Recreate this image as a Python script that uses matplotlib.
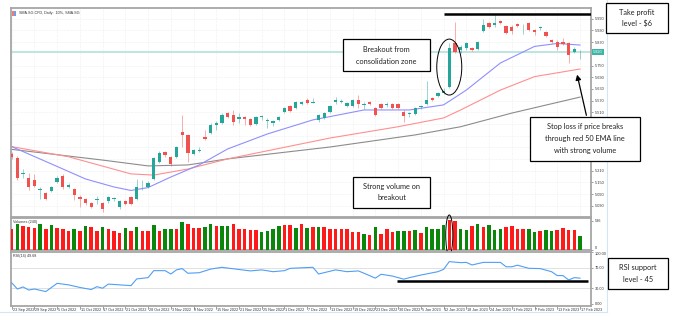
import matplotlib
matplotlib.use("Agg")
import matplotlib.pyplot as plt
from matplotlib.patches import Ellipse, Rectangle, FancyArrowPatch

W, H = 680, 323

# -------------------------------
# Daily candles
# -------------------------------
opens = [5.296, 5.276, 5.194, 5.173, 5.163, 5.114, 5.096, 5.106, 5.153, 5.183,
         5.127, 5.117, 5.076, 5.065, 5.045, 5.058, 5.045, 5.055, 5.063, 5.024,
         5.055, 5.076, 5.065, 5.150, 5.127, 5.168, 5.255, 5.306, 5.281, 5.281,
         5.409, 5.394, 5.296, 5.314, 5.383, 5.404, 5.445, 5.455, 5.506, 5.496,
         5.478, 5.486, 5.476, 5.450, 5.484, 5.463, 5.455, 5.471, 5.512, 5.542,
         5.532, 5.553, 5.573, 5.560, 5.471, 5.481, 5.512, 5.565, 5.565, 5.542,
         5.542, 5.573, 5.550, 5.563, 5.532, 5.553, 5.550, 5.553, 5.553, 5.512,
         5.499, 5.501, 5.535, 5.553, 5.583, 5.594, 5.609, 5.640, 5.865, 5.830,
         5.840, 5.840, 5.835, 5.927, 5.968, 5.958, 5.978, 5.953, 5.947, 5.963,
         5.945, 5.968, 5.932, 5.940, 5.922, 5.881, 5.871, 5.871, 5.865, 5.819,
         5.817]
highs = [5.306, 5.286, 5.219, 5.199, 5.194, 5.127, 5.101, 5.132, 5.183, 5.194,
         5.148, 5.122, 5.086, 5.071, 5.050, 5.081, 5.050, 5.081, 5.076, 5.060,
         5.060, 5.081, 5.168, 5.163, 5.158, 5.281, 5.312, 5.312, 5.286, 5.337,
         5.496, 5.399, 5.322, 5.332, 5.419, 5.455, 5.465, 5.506, 5.512, 5.522,
         5.506, 5.491, 5.481, 5.491, 5.496, 5.481, 5.471, 5.491, 5.537, 5.547,
         5.568, 5.568, 5.583, 5.583, 5.501, 5.512, 5.547, 5.588, 5.578, 5.563,
         5.578, 5.599, 5.563, 5.568, 5.537, 5.558, 5.563, 5.558, 5.558, 5.522,
         5.512, 5.537, 5.547, 5.671, 5.588, 5.614, 5.635, 5.865, 5.973, 5.855,
         5.871, 5.845, 5.876, 5.988, 5.973, 6.009, 5.983, 5.958, 5.958, 5.968,
         5.963, 5.973, 5.937, 5.953, 5.927, 5.886, 5.881, 5.891, 5.871, 5.845,
         5.830]
lows = [5.271, 5.163, 5.173, 5.112, 5.127, 5.065, 5.060, 5.101, 5.148, 5.117,
        5.122, 5.060, 5.024, 5.035, 5.019, 5.040, 4.999, 5.045, 5.055, 5.014,
        5.035, 5.035, 5.060, 5.112, 5.122, 5.163, 5.250, 5.281, 5.235, 5.276,
        5.332, 5.255, 5.291, 5.306, 5.368, 5.399, 5.419, 5.450, 5.481, 5.445,
        5.455, 5.445, 5.440, 5.445, 5.471, 5.430, 5.440, 5.465, 5.506, 5.512,
        5.527, 5.547, 5.553, 5.558, 5.460, 5.476, 5.506, 5.553, 5.558, 5.537,
        5.537, 5.532, 5.527, 5.547, 5.491, 5.527, 5.537, 5.527, 5.527, 5.460,
        5.486, 5.496, 5.527, 5.547, 5.568, 5.588, 5.604, 5.635, 5.814, 5.814,
        5.830, 5.824, 5.830, 5.922, 5.942, 5.947, 5.963, 5.912, 5.912, 5.947,
        5.912, 5.927, 5.906, 5.932, 5.896, 5.865, 5.830, 5.855, 5.763, 5.814,
        5.783]
closes = [5.281, 5.173, 5.201, 5.127, 5.132, 5.119, 5.065, 5.127, 5.173, 5.127,
          5.137, 5.086, 5.065, 5.045, 5.024, 5.063, 5.014, 5.076, 5.068, 5.055,
          5.040, 5.040, 5.127, 5.155, 5.148, 5.276, 5.301, 5.291, 5.245, 5.332,
          5.394, 5.301, 5.317, 5.319, 5.373, 5.445, 5.455, 5.496, 5.486, 5.460,
          5.484, 5.476, 5.445, 5.486, 5.489, 5.468, 5.465, 5.486, 5.532, 5.517,
          5.563, 5.563, 5.558, 5.565, 5.496, 5.506, 5.542, 5.571, 5.569, 5.558,
          5.573, 5.553, 5.555, 5.553, 5.496, 5.532, 5.555, 5.532, 5.532, 5.491,
          5.504, 5.532, 5.540, 5.573, 5.573, 5.609, 5.619, 5.840, 5.819, 5.845,
          5.865, 5.830, 5.871, 5.958, 5.947, 5.968, 5.968, 5.917, 5.927, 5.953,
          5.950, 5.932, 5.922, 5.945, 5.901, 5.871, 5.845, 5.860, 5.804, 5.835,
          5.820]

# EMA lines, read at a few bars
ema20_bars = [0, 7, 13, 18, 21, 24, 28, 33, 38, 45, 53, 62, 70, 76, 80, 86, 92, 96, 100]
ema20_vals = [5.334, 5.245, 5.168, 5.127, 5.109, 5.124, 5.178, 5.240, 5.322, 5.399,
              5.471, 5.522, 5.522, 5.548, 5.624, 5.763, 5.848, 5.863, 5.855]
ema50_bars = [0, 10, 21, 25, 31, 38, 56, 68, 76, 79, 86, 92, 100]
ema50_vals = [5.334, 5.282, 5.194, 5.188, 5.219, 5.271, 5.378, 5.436, 5.481, 5.522,
              5.624, 5.693, 5.732]
ema100_bars = [0, 16, 24, 31, 38, 56, 71, 79, 88, 100]
ema100_vals = [5.320, 5.265, 5.235, 5.240, 5.271, 5.332, 5.394, 5.436, 5.506, 5.588]

# Volume bars
volumes = [388, 475, 444, 431, 401, 475, 383, 456, 401, 383,
           351, 388, 357, 444, 431, 357, 420, 388, 357, 309,
           412, 351, 431, 351, 351, 462, 351, 383, 388, 383,
           512, 480, 412, 412, 431, 475, 444, 450, 440, 480,
           383, 380, 378, 375, 327, 357, 388, 449, 462, 458,
           412, 480, 412, 431, 425, 433, 388, 386, 384, 380,
           327, 325, 290, 270, 420, 296, 383, 327, 357, 351,
           357, 370, 320, 431, 383, 388, 462, 554, 541, 388,
           370, 440, 475, 431, 462, 370, 388, 431, 444, 388,
           388, 383, 333, 357, 370, 357, 370, 412, 370, 370,
           265]
vol_colors = ("rgrrrgrgrrrgrgrrgrrrgrgrrgrggrgrrrggrgg"
              "rrrrrggggrrgrgrgrrrrrrrgrgrrrggrgrggg"
              "grrggrgrgggrrrrggrggrrr")

# RSI(14) line, read at a few bars
rsi_bars = [0, 1, 2, 3, 4, 6, 8, 10, 12, 14, 15, 16, 17, 19, 21, 22, 24, 25, 27, 28,
            29, 30, 31, 33, 35, 37, 38, 42, 44, 46, 48, 49, 53, 54, 57, 59, 61, 62, 64,
            65, 67, 69, 70, 72, 75, 76, 77, 79, 80, 81, 83, 86, 87, 88, 89, 91, 93, 95,
            96, 97, 98, 99, 100]
rsi_vals = [41, 29, 33, 27, 29, 24, 40, 37, 32, 28, 33.5, 30.5, 38.5, 37, 35.5, 48.5, 51,
            64.5, 64.5, 58, 66, 68.5, 59.5, 60.5, 67.5, 71, 69.5, 64, 66, 62.5, 64.5, 69,
            71, 58, 66, 62.5, 64, 59.5, 50, 57.5, 54, 48, 51, 56, 62.5, 67, 82, 80, 80.5,
            75.5, 80.5, 80.5, 72, 72, 75, 69, 68.5, 62.5, 55, 55, 46.5, 51, 50]

date_bars = list(range(0, 101, 4))
date_labels = ["23 Sep 2022", "29 Sep 2022", "5 Oct 2022", "11 Oct 2022", "17 Oct 2022",
               "21 Oct 2022", "28 Oct 2022", "3 Nov 2022", "9 Nov 2022", "15 Nov 2022",
               "21 Nov 2022", "25 Nov 2022", "1 Dec 2022", "7 Dec 2022", "13 Dec 2022",
               "19 Dec 2022", "23 Dec 2022", "30 Dec 2022", "5 Jan 2023", "12 Jan 2023",
               "18 Jan 2023", "24 Jan 2023", "1 Feb 2023", "7 Feb 2023", "13 Feb 2023",
               "17 Feb 2023"]
price_ticks = [5.03, 5.09, 5.15, 5.21, 5.27, 5.33, 5.39, 5.45, 5.51, 5.57, 5.63, 5.69,
               5.75, 5.87, 5.93, 5.99]
# labels that sit under the stop-loss note in the screenshot
hidden_ticks = [5.27, 5.33, 5.39, 5.45]
last_price = 5.820
take_profit = 6.013
rsi_support = 45

# -------------------------------
# Figure layout (pixel based)
# -------------------------------
def rect(x0, y0, x1, y1):
    return [x0 / W, 1 - y1 / H, (x1 - x0) / W, (y1 - y0) / H]

fig = plt.figure(figsize=(W / 100, H / 100), dpi=100)
fig.patch.set_facecolor("white")
ax = fig.add_axes(rect(11, 8, 591, 217))
axv = fig.add_axes(rect(11, 218, 591, 250))
axr = fig.add_axes(rect(11, 252, 591, 306))

xmin, xmax = -0.12, 101.94
UP, DN = "#26a69a", "#ef5350"
frame = "#a6a6a6"
small = dict(fontsize=2.7, color="#333333", family="Liberation Sans")

for a in (ax, axv, axr):
    a.set_xlim(xmin, xmax)
    for s in a.spines.values():
        s.set_color(frame)
        s.set_linewidth(1.3)
    a.tick_params(axis="x", bottom=False, labelbottom=False)
    a.yaxis.tick_right()
    a.tick_params(axis="y", length=1.5, width=0.4, color="#555555", pad=1,
                  labelsize=2.8, labelcolor="#333333")

# -------------------------------
# Main price panel
# -------------------------------
ax.set_ylim(4.973, 6.045)
ax.set_yticks(price_ticks)
ax.set_yticklabels(["" if t in hidden_ticks else f"{t:.3f}" for t in price_ticks],
                   family="Liberation Sans")
for t in price_ticks:
    ax.axhline(t, color="#e4e4e4", lw=0.4, ls=(0, (1, 1.5)), zorder=0)
for b in date_bars:
    ax.axvline(b, color="#e4e4e4", lw=0.4, ls=(0, (1, 1.5)), zorder=0)

ax.axhline(last_price, color="#b9e3de", lw=1.3, zorder=1)
ax.text(1.003, last_price, f"{last_price:.3f}", transform=ax.get_yaxis_transform(),
        va="center", ha="left", fontsize=2.8, color="white", family="Liberation Sans",
        bbox=dict(boxstyle="square,pad=0.3", fc="#3cb5a8", ec="none"))

ax.plot(ema100_bars, ema100_vals, color="#8c8c8c", lw=0.8, zorder=2)
ax.plot(ema50_bars, ema50_vals, color="#ff8f8f", lw=0.8, zorder=2)
ax.plot(ema20_bars, ema20_vals, color="#8f8fff", lw=0.8, zorder=2)

for i in range(len(opens)):
    o, h, l, c = opens[i], highs[i], lows[i], closes[i]
    col = UP if c >= o else DN
    ax.vlines(i, l, h, color=col, lw=0.6, alpha=0.55, zorder=3)
    bottom, top = min(o, c), max(o, c)
    ax.add_patch(Rectangle((i - 0.29, bottom), 0.58, max(top - bottom, 0.002),
                           facecolor=col, edgecolor="none", zorder=4))

ax.hlines(take_profit, 76, xmax, color="black", lw=1.8, zorder=5)
ax.add_patch(Ellipse((77, 5.742), 4.4, 0.287, fill=False, ec="black", lw=0.7, zorder=6))

ax.text(0.013, 0.985, "SMA.SG.CFD, Daily:  10%, SMA.SG", transform=ax.transAxes,
        va="top", ha="left", **small)
ax.add_patch(Rectangle((0.001, 0.962), 0.007, 0.022, transform=ax.transAxes,
                       fc="#ef7b7b", ec="none"))
ax.add_patch(Rectangle((0.005, 0.962), 0.004, 0.022, transform=ax.transAxes,
                       fc="#6f9fe0", ec="none"))

# -------------------------------
# Volume panel
# -------------------------------
axv.set_ylim(0, 591)
axv.set_yticks([0, 536])
axv.set_yticklabels(["0", "536"], family="Liberation Sans")
axv.get_yticklabels()[0].set_va("bottom")
colmap = {"g": "#0a860a", "r": "#ff1a1a"}
axv.bar(range(len(volumes)), volumes, width=0.62,
        color=[colmap[c] for c in vol_colors[:len(volumes)]], zorder=3)
axv.text(0.004, 0.93, "Volumes (240)", transform=axv.transAxes, va="top", ha="left",
         **small)
axv.add_patch(Ellipse((77, 277), 1.25, 740, fill=False, ec="black", lw=0.7,
                      clip_on=False, zorder=6))

# -------------------------------
# RSI panel
# -------------------------------
axr.set_ylim(-3.9, 100.6)
axr.set_yticks([0, 30, 70, 100])
axr.set_yticklabels(["0.00", "30.00", "70.00", "100.00"], family="Liberation Sans")
axr.get_yticklabels()[-1].set_va("top")
for lvl in (30, 70):
    axr.axhline(lvl, color="#dcdcdc", lw=0.6, zorder=0)
axr.plot(rsi_bars, rsi_vals, color="#4f9ff5", lw=0.8, zorder=3)
axr.hlines(rsi_support, 67.8, 101.4, color="black", lw=1.8, zorder=5)
axr.text(0.004, 0.97, "RSI(14) 49.68", transform=axr.transAxes, va="top", ha="left",
         **small)

for b, lab in zip(date_bars, date_labels):
    axr.text(b + 0.15, -0.04, lab, transform=axr.get_xaxis_transform(), va="top",
             ha="left", **small)
    axr.plot([b, b], [-0.06, 0], transform=axr.get_xaxis_transform(), color="#555555",
             lw=0.4, clip_on=False)

# screenshot edges
fig.add_artist(plt.Line2D([607 / W, 607 / W], [1 - 312 / H, 1], color="#d3e6f3", lw=0.8))
fig.add_artist(plt.Line2D([0, 607 / W], [1 - 312 / H, 1 - 312 / H], color="#d3e6f3",
                          lw=0.8))

# -------------------------------
# Annotation boxes
# -------------------------------
def note(x0, y0, x1, y1, lines, ys):
    fig.add_artist(Rectangle((x0 / W, 1 - y1 / H), (x1 - x0) / W, (y1 - y0) / H,
                             transform=fig.transFigure, fc="white", ec="black", lw=0.9,
                             zorder=10))
    for line, y in zip(lines, ys):
        fig.text((x0 + x1) / 2 / W, 1 - y / H, line, ha="center", va="center",
                 fontsize=5.3, family="Lato", color="#222222", zorder=11)

note(343, 39, 430, 71, ["Breakout from", "consolidation zone"], [50, 61])
note(606, 3, 668, 33, ["Take profit", "level - $6"], [12, 23])
note(530, 117, 640, 161, ["Stop loss if price breaks", "through red 50 EMA line",
                          "with strong volume"], [126, 138, 150])
note(353, 177, 430, 208, ["Strong volume on", "breakout"], [187, 198])
note(608, 258, 668, 289, ["RSI support", "level - 45"], [267.5, 279])

fig.add_artist(FancyArrowPatch(
    (587 / W, 1 - 118 / H), (576.5 / W, 1 - 72 / H), transform=fig.transFigure,
    arrowstyle="-|>,head_length=3,head_width=1.6", color="black", lw=0.9, zorder=12))

fig.savefig("out.png", dpi=100, facecolor="white")
